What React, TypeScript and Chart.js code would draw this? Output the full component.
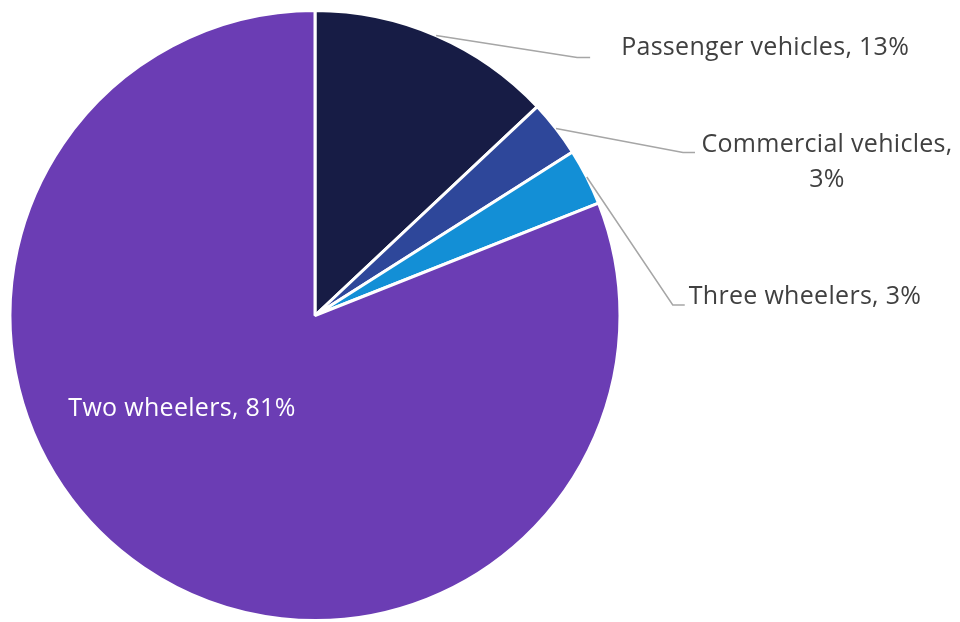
import React, { useEffect, useRef } from "react";
import { Chart, registerables } from "chart.js";

Chart.register(...registerables);

const categories = ["Passenger vehicles", "Commercial vehicles", "Three wheelers", "Two wheelers"];
const shares = [13, 3, 3, 81];
const colors = ["#171C45", "#2E479A", "#138FD6", "#6B3DB4"];

// label layout: offsets from the slice's outer mid-angle point (outside labels) or from the pie centre (inside)
const labelLayout = [
  { outside: true, elbow: [141, 22], end: [154, 22], text: [185, 12], align: "left", lines: ["Passenger vehicles, 13%"] },
  { outside: true, elbow: [127, 24], end: [139, 24], text: [271, 16], align: "center", lines: ["Commercial vehicles,", "3%"] },
  { outside: true, elbow: [86, 128], end: [98, 128], text: [102, 120], align: "left", lines: ["Three wheelers, 3%"] },
  { outside: false, text: [-133, 93], align: "center", lines: ["Two wheelers, 81%"] },
];

const FONT = "25px 'Open Sans', sans-serif";

const labelPlugin = {
  id: "pieLabels",
  afterDraw(chart: any) {
    const ctx = chart.ctx;
    const meta = chart.getDatasetMeta(0);
    ctx.save();
    ctx.font = FONT;
    try { (ctx as any).letterSpacing = "0.3px"; } catch (e) {}
    ctx.textBaseline = "middle";
    meta.data.forEach((arc: any, i: number) => {
      const L: any = labelLayout[i];
      const { x, y, startAngle, endAngle, outerRadius } = arc.getProps(["x", "y", "startAngle", "endAngle", "outerRadius"], true);
      const mid = (startAngle + endAngle) / 2;
      let bx: number, by: number;
      if (L.outside) {
        bx = x + Math.cos(mid) * (outerRadius);
        by = y + Math.sin(mid) * (outerRadius);
        ctx.strokeStyle = "#A6A6A6";
        ctx.lineWidth = 1.5;
        ctx.beginPath();
        ctx.moveTo(bx, by);
        ctx.lineTo(bx + L.elbow[0], by + L.elbow[1]);
        ctx.lineTo(bx + L.end[0], by + L.end[1]);
        ctx.stroke();
        ctx.fillStyle = "#404040";
      } else {
        bx = x;
        by = y;
        ctx.fillStyle = "#FFFFFF";
      }
      ctx.textAlign = L.align;
      L.lines.forEach((line: string, k: number) => {
        ctx.fillText(line, bx + L.text[0], by + L.text[1] + k * 35);
      });
    });
    ctx.restore();
  },
};

export default function App() {
  const ref = useRef<HTMLCanvasElement>(null);
  useEffect(() => {
    if (!ref.current) return;
    const chart = new Chart(ref.current, {
      type: "pie",
      data: {
        labels: categories,
        datasets: [
          {
            data: shares,
            backgroundColor: colors,
            borderColor: "#FFFFFF",
            borderWidth: 3,
          },
        ],
      },
      options: {
        responsive: false,
        animation: false,
        layout: { padding: { left: 7, right: 337, top: 9, bottom: -3 } },
        plugins: {
          legend: { display: false },
          tooltip: { enabled: false },
        },
      },
      plugins: [labelPlugin],
    });
    return () => chart.destroy();
  }, []);
  return (
    <div style={{ position: "absolute", left: 0, top: 0, width: 960, height: 622, background: "#fff" }}>
      <canvas ref={ref} width={960} height={622} />
    </div>
  );
}
